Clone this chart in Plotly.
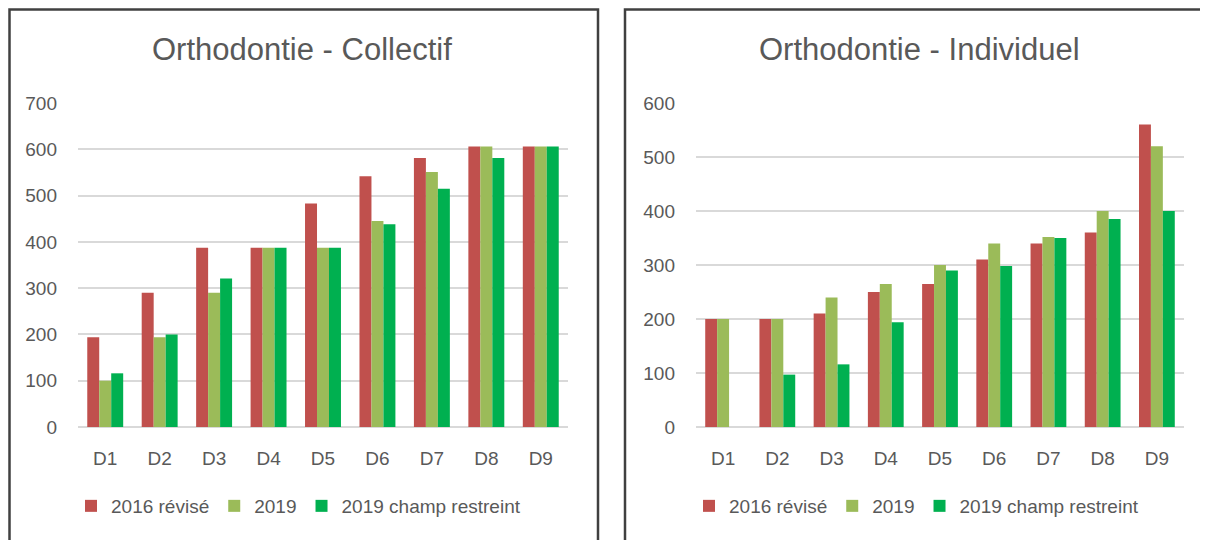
import plotly.graph_objects as go

# Déciles et séries
deciles = ["D1", "D2", "D3", "D4", "D5", "D6", "D7", "D8", "D9"]
series_names = ["2016 révisé", "2019", "2019 champ restreint"]
series_colors = ["#C0504D", "#9BBB59", "#00B050"]

collectif_2016 = [194, 290, 387, 387, 483, 542, 581, 606, 606]
collectif_2019 = [100, 194, 290, 387, 387, 445, 551, 606, 606]
collectif_restreint = [116, 200, 321, 387, 387, 438, 515, 581, 606]

individuel_2016 = [200, 200, 210, 250, 265, 310, 340, 360, 560]
individuel_2019 = [200, 200, 240, 265, 300, 340, 352, 400, 520]
individuel_restreint = [None, 97, 116, 194, 290, 298, 350, 385, 400]

W, H = 1208, 540
OFFSET = 8  # marge par défaut du <body>
TEXT = "#595959"
GRID = "#D9D9D9"
FONT = "Liberation Sans, Arial, sans-serif"


def px(x):
    return (x - OFFSET) / W


def py(y):
    return 1 - (y - OFFSET) / H


fig = go.Figure()

panels = [
    ("x", "y", "legend", [collectif_2016, collectif_2019, collectif_restreint]),
    ("x2", "y2", "legend2", [individuel_2016, individuel_2019, individuel_restreint]),
]
for xa, ya, leg, values in panels:
    for name, color, vals in zip(series_names, series_colors, values):
        fig.add_trace(go.Bar(
            x=deciles, y=vals, name=name,
            marker=dict(color=color, line=dict(width=0)),
            xaxis=xa, yaxis=ya, legend=leg,
        ))

axis_common = dict(
    showline=False, ticks="", automargin=False,
    tickfont=dict(family=FONT, size=19, color=TEXT),
)
fig.update_layout(
    width=W, height=H,
    margin=dict(l=0, r=0, t=0, b=0, autoexpand=False),
    paper_bgcolor="white", plot_bgcolor="white",
    barmode="group", bargap=0.34, bargroupgap=0,
    xaxis=dict(domain=[px(78), px(568)], anchor="y", showgrid=False,
               ticklabelstandoff=18, **axis_common),
    yaxis=dict(domain=[py(427), py(103)], anchor="x", range=[0, 700], dtick=100,
               gridcolor=GRID, gridwidth=1.5, zeroline=True, zerolinecolor=GRID,
               zerolinewidth=1.5, ticklabelstandoff=20, **axis_common),
    xaxis2=dict(domain=[px(696), px(1184)], anchor="y2", showgrid=False,
                ticklabelstandoff=18, **axis_common),
    yaxis2=dict(domain=[py(427), py(103)], anchor="x2", range=[0, 600], dtick=100,
                gridcolor=GRID, gridwidth=1.5, zeroline=True, zerolinecolor=GRID,
                zerolinewidth=1.5, ticklabelstandoff=20, **axis_common),
    legend=dict(orientation="h", x=px(71), y=py(506), xanchor="left", yanchor="middle",
                font=dict(family=FONT, size=19, color=TEXT), bgcolor="rgba(0,0,0,0)"),
    legend2=dict(orientation="h", x=px(689), y=py(506), xanchor="left", yanchor="middle",
                 font=dict(family=FONT, size=19, color=TEXT), bgcolor="rgba(0,0,0,0)"),
)

# Titres
for text, xc in [("Orthodontie - Collectif", 302), ("Orthodontie - Individuel", 919)]:
    fig.add_annotation(
        text=text, xref="paper", yref="paper", x=px(xc), y=py(49),
        xanchor="center", yanchor="middle", showarrow=False,
        font=dict(family=FONT, size=31, color=TEXT),
    )

# Cadres des deux graphiques
for x0, x1 in [(9.5, 598), (625, 1215)]:
    fig.add_shape(
        type="rect", xref="paper", yref="paper",
        x0=px(x0), x1=px(x1), y0=py(560), y1=py(9.5),
        line=dict(color="#404040", width=2.5), fillcolor="rgba(0,0,0,0)",
    )

fig.write_html("out.html")
